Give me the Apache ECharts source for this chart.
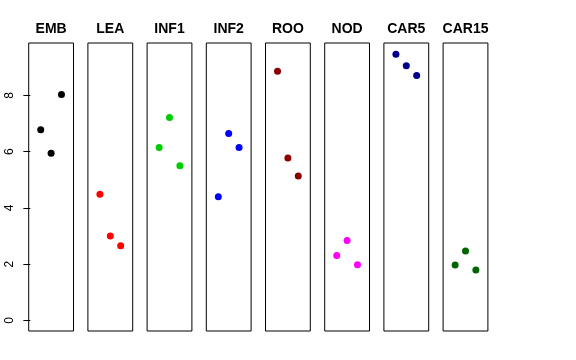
<!DOCTYPE html>
<html>
<head>
<meta charset="utf-8">
<script src="https://cdn.jsdelivr.net/npm/echarts@6/dist/echarts.min.js"></script>
<style>html,body{margin:0;padding:0;background:#fff}#c{width:576px;height:360px}</style>
</head>
<body>
<div id="c"></div>
<script>
var categories = ['EMB','LEA','INF1','INF2','ROO','NOD','CAR5','CAR15'];
var xPositions = [1, 2, 3];
var EMB = [6.78, 5.95, 8.04];
var LEA = [4.49, 3.00, 2.65];
var INF1 = [6.15, 7.22, 5.50];
var INF2 = [4.40, 6.65, 6.15];
var ROO = [8.86, 5.78, 5.14];
var NOD = [2.31, 2.84, 1.98];
var CAR5 = [9.47, 9.06, 8.71];
var CAR15 = [1.97, 2.47, 1.79];
var yTicks = [0, 2, 4, 6, 8];
var colors = ['#000000','#FF0000','#00CD00','#0000FF','#8B0000','#FF00FF','#00008B','#006400'];

var seriesValues = [EMB, LEA, INF1, INF2, ROO, NOD, CAR5, CAR15];
var yMin = -0.3796, yMax = 9.8696;
var grids = [], xAxes = [], yAxes = [], series = [], titles = [];
for (var i = 0; i < categories.length; i++) {
  var left = 28.7 + i * 59.2;
  var w = 44.8;
  grids.push({left: left, top: 43, width: w, height: 288, show: true, borderColor: '#000', borderWidth: 1, backgroundColor: 'transparent'});
  xAxes.push({type: 'value', gridIndex: i, min: -0.16, max: 4.16, show: false});
  yAxes.push({
    type: 'value', gridIndex: i, min: yMin, max: yMax, show: i === 0,
    splitLine: {show: false}, axisLine: {show: false},
    axisTick: {show: true, inside: false, length: 7, customValues: yTicks, lineStyle: {color: '#000'}},
    axisLabel: {show: true, customValues: yTicks, rotate: 90, margin: 13, fontSize: 12, color: '#000', fontFamily: 'Liberation Sans'}
  });
  titles.push({text: categories[i], left: left + w / 2, top: 22, textAlign: 'center', padding: 0,
    textStyle: {fontSize: 14, fontWeight: 'bold', color: '#000', fontFamily: 'Liberation Sans'}});
  series.push({
    type: 'scatter', xAxisIndex: i, yAxisIndex: i, symbolSize: 7,
    itemStyle: {color: colors[i], opacity: 1},
    data: xPositions.map(function (x, k) { return [x, seriesValues[i][k]]; }),
    silent: true
  });
}
var chart = echarts.init(document.getElementById('c'), null, {renderer: 'canvas'});
chart.setOption({animation: false, title: titles, grid: grids, xAxis: xAxes, yAxis: yAxes, series: series});
</script>
</body>
</html>
